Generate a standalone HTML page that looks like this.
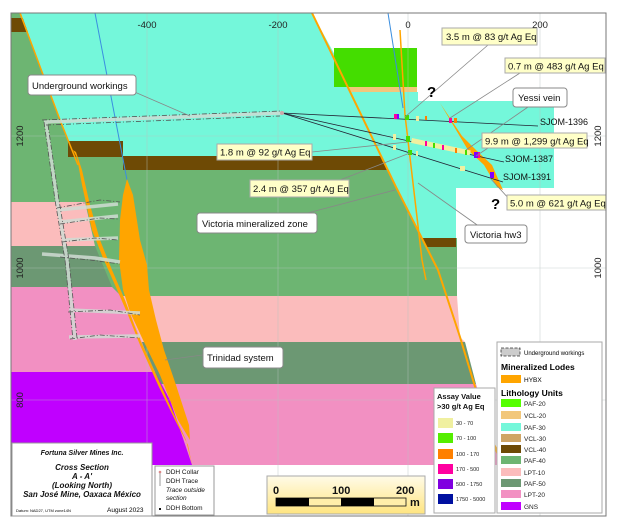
<!DOCTYPE html>
<html><head><meta charset="utf-8"><style>
html,body{margin:0;padding:0;background:#fff;width:620px;height:525px;overflow:hidden}
text{font-family:"Liberation Sans",sans-serif}
</style></head><body>
<svg width="620" height="525" viewBox="0 0 620 525" xmlns="http://www.w3.org/2000/svg">
<defs><clipPath id="fr"><rect x="11" y="13" width="595" height="503"/></clipPath></defs>
<rect width="620" height="525" fill="#fff"/>
<g clip-path="url(#fr)">
<!-- PAF-40 green base -->
<polygon points="11,13 21,13 60,120 68,141 123,141 123,156 390,156 396,187 422,238 457,238 457,302 11,302" fill="#6db572"/>
<polygon points="11,18 23,18 28,32 11,32" fill="#6e4a05"/>
<!-- cyan left -->
<polygon points="21,13 312,13 390,156 123,156 123,141 68,141 60,120" fill="#74f7da"/>
<!-- brown VCL-40 -->
<polygon points="68,141 123,141 123,156 390,156 394,170 123,170 123,157 68,157" fill="#6e4a05"/>
<!-- right cyan -->
<polygon points="350,92 418,92 418,101 554,101 554,188 456,188 456,238 422,238 396,187" fill="#74f7da"/>
<polygon points="422,238 456,238 456,247 427,247" fill="#6e4a05"/>
<rect x="334" y="48" width="83" height="39" fill="#44dd00"/>
<polygon points="348,87 417,87 417,92 350,92" fill="#f2c77b"/>
<!-- right layers -->
<polygon points="11,296 457,296 460,337 465,342 11,342" fill="#fbbcbc"/>
<polygon points="11,342 465,342 476,384 11,384" fill="#6c9873"/>
<polygon points="11,384 476,384 478,390 500,465 11,465" fill="#f290c2"/>
<!-- left layers -->
<polygon points="11,202 85,202 95,246 11,246" fill="#fbbcbc"/>
<polygon points="11,246 95,246 112,287 11,287" fill="#6c9873"/>
<polygon points="11,287 112,287 125,300 145,350 155,372 11,372" fill="#f290c2"/>
<polygon points="11,372 155,372 170,400 192,465 11,465" fill="#c000ff"/>
<!-- grid -->
<g stroke="#b8c4c0" stroke-width="0.6" opacity="0.7">
<line x1="147" y1="13" x2="147" y2="516"/><line x1="278" y1="13" x2="278" y2="516"/><line x1="408" y1="13" x2="408" y2="516"/><line x1="540" y1="13" x2="540" y2="516"/>
<line x1="11" y1="136" x2="606" y2="136"/><line x1="11" y1="268" x2="606" y2="268"/><line x1="11" y1="400" x2="606" y2="400"/>
</g>
<polyline points="20,13 60,120 78,165" fill="none" stroke="#ffa500" stroke-width="1.5"/>
<polyline points="312,13 396,187 438,270 460,337 476,390 502,467" fill="none" stroke="#ffa500" stroke-width="2"/>
<polyline points="400,30 405,115 413,183 422,260 426,280" fill="none" stroke="#ffa500" stroke-width="1.5"/>
<line x1="95" y1="13" x2="127" y2="180" stroke="#3a8ee0" stroke-width="1"/>
<line x1="388" y1="13" x2="403" y2="108" stroke="#3a8ee0" stroke-width="1"/>
<!-- Trinidad bodies -->
<polygon points="73,150 77,158 82,185 92,230 103,258 115,285 128,315 140,345 158,385 175,420 188,445 192,465 186,440 172,410 155,372 138,335 125,300 112,270 100,240 90,205 82,170 76,152" fill="#ffa500"/>
<polygon points="127,179 133,195 140,240 147,265 149,290 156,320 164,350 176,385 189,425 190,440 178,420 160,375 143,340 130,312 123,290 119,260 120,220 123,195" fill="#ffa500"/>
<polygon points="440,103 462,136 478,152 492,165 503,190 497,187 484,165 468,150 456,130" fill="#ffa500"/>
<!-- underground workings -->
<g fill="none" stroke="#d0dcd4" stroke-width="3.5" opacity="0.85">
<polyline points="44,122 282,113"/><polyline points="46,123 57,200 67,260 75,340"/>
<polyline points="58,210 118,204"/><polyline points="60,222 118,216"/><polyline points="62,240 118,238"/><polyline points="42,254 95,258 120,262"/><polyline points="69,310 140,313"/><polyline points="69,337 140,336"/>
</g>
<g fill="none" stroke="#555" stroke-width="0.8" stroke-dasharray="5,2,1,2">
<polyline points="42,120 282,111"/><polyline points="46,125 280,116"/>
<polyline points="44,122 55,200 65,260 73,340"/><polyline points="48,125 59,200 69,260 77,338"/>
<polyline points="57,208 100,200 120,202"/><polyline points="60,224 100,218 118,219"/>
<polyline points="62,242 95,238 118,240"/><polyline points="60,257 90,260 120,264"/>
<polyline points="68,312 110,310 140,315"/><polyline points="70,339 100,335 140,338"/>
</g>
<g stroke="#223" stroke-width="0.8">
<line x1="282" y1="113" x2="538" y2="126"/><line x1="282" y1="113" x2="504" y2="162"/><line x1="282" y1="113" x2="503" y2="182"/>
</g>
<circle cx="282" cy="113" r="2" fill="#caa"/>
<g>
<rect x="394" y="114" width="3" height="5" fill="#ff00a0"/><rect x="397" y="114" width="2" height="5" fill="#8000ff"/><rect x="405" y="115" width="4" height="5" fill="#44dd00"/><rect x="416" y="116" width="3" height="5" fill="#f0f0a0"/><rect x="425" y="116" width="2" height="4" fill="#ff8000"/><rect x="449" y="118" width="3" height="5" fill="#ff00a0"/><rect x="454" y="118" width="3" height="5" fill="#ff8000"/>
<rect x="393" y="134" width="3" height="6" fill="#f0f0a0"/><rect x="406" y="136" width="4" height="6" fill="#44dd00"/>
<rect x="412" y="138" width="60" height="5" fill="#f0f0a0" transform="rotate(12 412 138)"/>
<rect x="425" y="141" width="2" height="5" fill="#ff00a0"/><rect x="433" y="143" width="2" height="5" fill="#44dd00"/><rect x="442" y="145" width="2" height="5" fill="#ff00a0"/><rect x="455" y="148" width="2" height="5" fill="#ff8000"/><rect x="465" y="150" width="2" height="5" fill="#44dd00"/><rect x="474" y="152" width="4" height="6" fill="#8000ff"/><rect x="478" y="152" width="2" height="6" fill="#ff00a0"/>
<rect x="393" y="145" width="3" height="5" fill="#f0f0a0"/><rect x="408" y="150" width="4" height="5" fill="#44dd00"/><rect x="416" y="151" width="2" height="5" fill="#f0f0a0"/><rect x="460" y="166" width="5" height="5" fill="#f0f0a0"/><rect x="490" y="172" width="4" height="6" fill="#8000ff"/>
</g>
<g font-size="9" fill="#111">
<text x="540" y="125">SJOM-1396</text><text x="505" y="162">SJOM-1387</text><text x="503" y="180">SJOM-1391</text>
</g>
<g stroke="#888" stroke-width="0.8">
<line x1="488" y1="45" x2="405" y2="117"/><line x1="520" y1="73" x2="450" y2="118"/><line x1="528" y1="107" x2="466" y2="150"/>
<line x1="312" y1="152" x2="408" y2="142"/><line x1="340" y1="180" x2="410" y2="153"/><line x1="488" y1="148" x2="476" y2="156"/><line x1="510" y1="200" x2="490" y2="178"/>
<line x1="300" y1="215" x2="395" y2="190"/><line x1="480" y1="227" x2="418" y2="183"/><line x1="130" y1="90" x2="190" y2="116"/><line x1="240" y1="350" x2="165" y2="360"/>
</g>
<g font-size="9.5" fill="#111">
<rect x="442" y="28" width="95" height="17" fill="#ffffc8" stroke="#aaa"/><text x="446" y="40">3.5 m @ 83 g/t Ag Eq</text>
<rect x="505" y="58" width="100" height="15" fill="#ffffc8" stroke="#aaa"/><text x="508" y="69.5">0.7 m @ 483 g/t Ag Eq</text>
<rect x="482" y="133" width="105" height="15" fill="#ffffc8" stroke="#aaa"/><text x="485" y="144.5">9.9 m @ 1,299 g/t Ag Eq</text>
<rect x="217" y="144" width="95" height="16" fill="#ffffc8" stroke="#aaa"/><text x="220" y="155.5">1.8 m @ 92 g/t Ag Eq</text>
<rect x="250" y="180" width="99" height="17" fill="#ffffc8" stroke="#aaa"/><text x="253" y="192">2.4 m @ 357 g/t Ag Eq</text>
<rect x="507" y="195" width="100" height="15" fill="#ffffc8" stroke="#aaa"/><text x="510" y="206.5">5.0 m @ 621 g/t Ag Eq</text>
<rect x="513" y="88" width="54" height="19" rx="3" fill="#fff" stroke="#888"/><text x="518" y="101">Yessi vein</text>
<rect x="197" y="213" width="120" height="20" rx="3" fill="#fff" stroke="#888"/><text x="202" y="227">Victoria mineralized zone</text>
<rect x="465" y="225" width="62" height="18" rx="3" fill="#fff" stroke="#888"/><text x="470" y="238">Victoria hw3</text>
<rect x="28" y="75" width="108" height="20" rx="3" fill="#fff" stroke="#888"/><text x="32" y="89">Underground workings</text>
<rect x="203" y="347" width="80" height="21" rx="3" fill="#fff" stroke="#888"/><text x="207" y="361">Trinidad system</text>
</g>
<text x="427" y="97" font-size="15" font-weight="bold">?</text>
<text x="491" y="209" font-size="15" font-weight="bold">?</text>
</g>
<rect x="11" y="13" width="595" height="503" fill="none" stroke="#777" stroke-width="1"/>
<g font-size="9.5" fill="#222" text-anchor="middle">
<text x="147" y="28">-400</text><text x="278" y="28">-200</text><text x="408" y="28">0</text><text x="540" y="28">200</text>
<text transform="translate(23,136) rotate(-90)">1200</text><text transform="translate(23,268) rotate(-90)">1000</text><text transform="translate(23,400) rotate(-90)">800</text>
<text transform="translate(601,136) rotate(-90)">1200</text><text transform="translate(601,268) rotate(-90)">1000</text>
</g>
<rect x="12" y="443" width="140" height="73" fill="#fff" stroke="#999"/>
<g text-anchor="middle" fill="#111">
<text x="82" y="455" font-size="7" font-style="italic" font-weight="bold" font-family="Liberation Serif,serif">Fortuna Silver Mines Inc.</text>
<text x="82" y="470" font-size="8" font-style="italic" font-weight="bold">Cross Section</text>
<text x="82" y="479" font-size="8" font-style="italic" font-weight="bold">A - A'</text>
<text x="82" y="488" font-size="8" font-style="italic" font-weight="bold">(Looking North)</text>
<text x="82" y="497" font-size="8" font-style="italic" font-weight="bold">San José Mine, Oaxaca México</text>
</g>
<text x="16" y="512" font-size="4">Datum: NAD27, UTM zone14N</text>
<text x="107" y="512" font-size="6.5">August 2023</text>
<rect x="155" y="466" width="59" height="49" fill="#fff" stroke="#999"/>
<g font-size="6.5" fill="#111"><text x="166" y="474">DDH Collar</text><text x="166" y="483">DDH Trace</text><text x="166" y="492" font-style="italic">Trace outside</text><text x="166" y="500" font-style="italic">section</text><text x="166" y="510">DDH Bottom</text></g>
<line x1="160" y1="472" x2="160" y2="486" stroke="#999"/><circle cx="160" cy="472" r="1.3" fill="#d88"/><rect x="159" y="508" width="2" height="2" fill="#111"/>
<defs><linearGradient id="sg" x1="0" y1="0" x2="0" y2="1"><stop offset="0" stop-color="#fffbe8"/><stop offset="1" stop-color="#ffe580"/></linearGradient></defs>
<rect x="267" y="476" width="158" height="38" fill="url(#sg)" stroke="#aaa"/>
<g font-size="11" font-weight="bold" fill="#111"><text x="273" y="494">0</text><text x="332" y="494">100</text><text x="396" y="494">200</text><text x="410" y="506">m</text></g>
<rect x="276" y="498" width="130" height="8" fill="#ffeeaa" stroke="#111" stroke-width="0.8"/>
<rect x="276" y="498" width="33" height="8" fill="#000"/><rect x="341" y="498" width="33" height="8" fill="#000"/>
<rect x="434" y="388" width="61" height="125" fill="#fff" stroke="#aaa"/>
<g font-size="7.5" font-weight="bold" fill="#111"><text x="437" y="399">Assay Value</text><text x="437" y="409">&gt;30 g/t Ag Eq</text></g>
<g font-size="5.5" fill="#222">
<rect x="438" y="418" width="15" height="10" fill="#f0f0a0"/><text x="456" y="425">30 - 70</text>
<rect x="438" y="433" width="15" height="10" fill="#55ee00"/><text x="456" y="440">70 - 100</text>
<rect x="438" y="449" width="15" height="10" fill="#ff8000"/><text x="456" y="456">100 - 170</text>
<rect x="438" y="464" width="15" height="10" fill="#ff00a0"/><text x="456" y="471">170 - 500</text>
<rect x="438" y="479" width="15" height="10" fill="#8000e0"/><text x="456" y="486">500 - 1750</text>
<rect x="438" y="494" width="15" height="10" fill="#0010a0"/><text x="456" y="501">1750 - 5000</text>
</g>
<rect x="497" y="342" width="105" height="171" fill="#fff" stroke="#aaa"/>
<rect x="501" y="348" width="19" height="8" fill="#ccc" stroke="#333" stroke-dasharray="3,1.5" stroke-width="0.8"/>
<text x="524" y="355" font-size="6">Underground workings</text>
<text x="501" y="370" font-size="8.5" font-weight="bold">Mineralized Lodes</text>
<rect x="501" y="375" width="20" height="8" fill="#ffa500"/><text x="524" y="382" font-size="6.5">HYBX</text>
<text x="501" y="396" font-size="8.5" font-weight="bold">Lithology Units</text>
<g font-size="6.5" fill="#222">
<rect x="501" y="399" width="20" height="8" fill="#55ff00"/><text x="524" y="406">PAF-20</text>
<rect x="501" y="411" width="20" height="8" fill="#f2c77b"/><text x="524" y="418">VCL-20</text>
<rect x="501" y="423" width="20" height="8" fill="#74f7da"/><text x="524" y="430">PAF-30</text>
<rect x="501" y="434" width="20" height="8" fill="#cfa565"/><text x="524" y="441">VCL-30</text>
<rect x="501" y="445" width="20" height="8" fill="#6e4a05"/><text x="524" y="452">VCL-40</text>
<rect x="501" y="456" width="20" height="8" fill="#6db572"/><text x="524" y="463">PAF-40</text>
<rect x="501" y="468" width="20" height="8" fill="#fbbcbc"/><text x="524" y="475">LPT-10</text>
<rect x="501" y="479" width="20" height="8" fill="#6c9873"/><text x="524" y="486">PAF-50</text>
<rect x="501" y="490" width="20" height="8" fill="#f290c2"/><text x="524" y="497">LPT-20</text>
<rect x="501" y="502" width="20" height="8" fill="#c000ff"/><text x="524" y="509">GNS</text>
</g>
</svg>
</body></html>
